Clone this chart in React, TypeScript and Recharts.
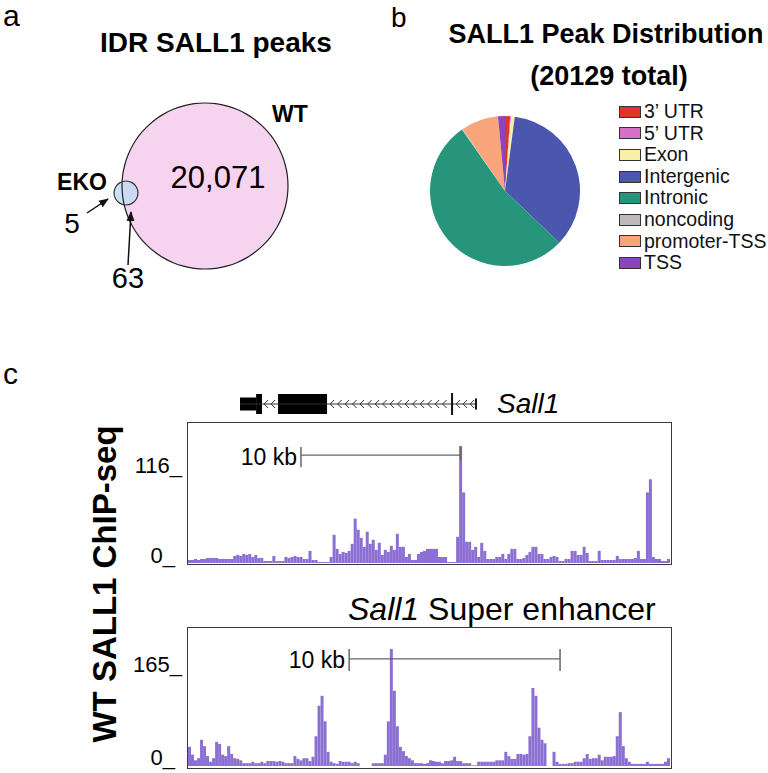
import React from "react";
import {
  PieChart,
  Pie,
  Cell,
  BarChart,
  Bar,
  XAxis,
  YAxis,
  ReferenceLine,
  ReferenceArea,
  ComposedChart,
  Scatter,
} from "recharts";

// ---- panel a: IDR peak overlap ----
const wtPeaks = [{ name: "WT", value: 20071 + 63 }];
const ekoPeaks = [{ name: "EKO", value: 5 + 63 }];

// ---- panel b: peak annotation ----
const peakTypes = ["3’ UTR", "5’ UTR", "Exon", "Intergenic", "Intronic", "noncoding", "promoter-TSS", "TSS"];
const peakCounts = [220, 40, 160, 7050, 10700, 40, 1620, 300];
const peakColors = ["#e0332b", "#d670c8", "#f7f0a6", "#4b57ae", "#27957b", "#bdb8bb", "#f8a57c", "#8a45b8"];

// ---- panel c: ChIP-seq signal, one value per bin ----
const sall1Signal = [
  3, 3, 4, 3, 4, 4, 5, 5, 5, 5,
  4, 4, 4, 4, 4, 7, 8, 7, 9, 8,
  9, 6, 8, 5, 5, 2, 2, 2, 7, 2,
  2, 2, 6, 5, 6, 7, 6, 6, 4, 4,
  12, 3, 3, 1, 1, 1, 1, 6, 28, 14,
  9, 11, 10, 12, 19, 44, 33, 25, 16, 31,
  19, 23, 13, 20, 8, 13, 11, 17, 13, 29,
  16, 16, 6, 9, 3, 3, 9, 11, 12, 14,
  14, 14, 14, 6, 6, 6, 1, 1, 1, 26,
  116, 70, 21, 21, 13, 16, 6, 20, 12, 4,
  4, 4, 6, 6, 9, 4, 9, 14, 14, 4,
  4, 5, 8, 11, 16, 16, 9, 9, 4, 4,
  6, 7, 6, 2, 2, 4, 4, 12, 12, 8,
  8, 16, 10, 2, 2, 2, 12, 3, 3, 3,
  3, 3, 7, 4, 4, 4, 4, 4, 5, 12,
  4, 4, 70, 83, 6, 4, 4, 2, 2, 4,
];
const enhancerSignal = [
  27, 16, 8, 11, 37, 28, 14, 6, 11, 34,
  31, 16, 14, 28, 17, 11, 10, 8, 4, 4,
  4, 6, 4, 4, 6, 4, 7, 7, 7, 6,
  7, 6, 4, 4, 4, 14, 10, 8, 11, 11,
  7, 13, 42, 85, 99, 63, 20, 6, 4, 3,
  7, 6, 6, 6, 4, 6, 4, 0, 0, 0,
  0, 4, 4, 4, 4, 16, 63, 165, 106, 56,
  27, 21, 14, 11, 8, 4, 4, 4, 3, 4,
  8, 7, 6, 6, 4, 7, 7, 8, 13, 7,
  7, 4, 4, 4, 1, 1, 6, 6, 6, 6,
  6, 6, 8, 8, 8, 20, 14, 10, 10, 17,
  17, 16, 17, 42, 110, 99, 54, 37, 32, 0,
  0, 20, 6, 3, 3, 3, 4, 4, 6, 6,
  6, 11, 17, 10, 11, 11, 16, 8, 13, 13,
  13, 14, 42, 76, 28, 11, 6, 3, 3, 3,
  3, 3, 6, 3, 3, 3, 3, 3, 6, 11,
];

// Sall1 gene model (kb from left edge of the top track)
const geneSpanKb = 30.3;
const exonBlocks = [
  { x1: 3.27, x2: 4.28, h: 3.3 },
  { x1: 4.28, x2: 4.65, h: 5 },
  { x1: 5.66, x2: 8.74, h: 5 },
];
const intronSpan = [3.27, 18.1];
const geneTicks = [
  { x: 16.6, h: 5.5 },
  { x: 18.1, h: 2.8 },
];
const chevronKb = [
  4.91, 5.35, 9.06, 9.53, 10.0, 10.47, 10.94, 11.42, 11.89, 12.36, 12.83, 13.3,
  13.77, 14.25, 14.72, 15.19, 15.66, 16.13, 16.98, 17.42, 17.86,
];

const FONT = "'Liberation Sans', Arial, Helvetica, sans-serif";
const BAR = "#8c6fd3";

const Chevron = (props: any) => {
  const { cx, cy } = props;
  return (
    <path
      d={`M${cx + 2},${cy - 4} L${cx - 2},${cy} L${cx + 2},${cy + 4}`}
      fill="none"
      stroke="#333"
      strokeWidth={1}
    />
  );
};

const Track = ({ values, max, top, marginTop, scaleBar }: any) => {
  const data = values.map((v: number, i: number) => ({ i, v }));
  const height = 117 + marginTop;
  return (
    <div style={{ position: "absolute", left: 188, top, width: 482, height }}>
      <BarChart
        width={482}
        height={height}
        data={data}
        barCategoryGap={0}
        margin={{ top: marginTop, right: 0, left: 0, bottom: 0 }}
      >
        <XAxis dataKey="i" type="category" hide />
        <YAxis domain={[0, max]} hide allowDataOverflow />
        <Bar dataKey="v" fill={BAR} isAnimationActive={false} />
        {/* 10 kb scale bar */}
        <ReferenceLine
          segment={[{ x: scaleBar.from, y: scaleBar.y }, { x: scaleBar.to, y: scaleBar.y }]}
          stroke="#666"
          strokeWidth={1.2}
          ifOverflow="visible"
        />
        <ReferenceLine
          segment={[{ x: scaleBar.from, y: scaleBar.tickHi }, { x: scaleBar.from, y: scaleBar.tickLo }]}
          stroke="#666"
          strokeWidth={1.5}
          ifOverflow="visible"
        />
        <ReferenceLine
          segment={[{ x: scaleBar.to, y: scaleBar.tickHi }, { x: scaleBar.to, y: scaleBar.rightLo }]}
          stroke="#666"
          strokeWidth={1.5}
          ifOverflow="visible"
        />
      </BarChart>
    </div>
  );
};

const Box = ({ top, height }: any) => (
  <div
    style={{
      position: "absolute",
      left: 187,
      top,
      width: 485,
      height,
      border: "1.5px solid #3a3a3a",
      boxSizing: "border-box",
      pointerEvents: "none",
    }}
  />
);

export default function App() {
  const chevronData = chevronKb.map((x) => ({ x, y: 0 }));
  return (
    <div
      style={{
        position: "absolute",
        left: 0,
        top: 0,
        width: 768,
        height: 773,
        background: "#fff",
        fontFamily: FONT,
        overflow: "hidden",
      }}
    >
      {/* a: Venn as two circles */}
      <div style={{ position: "absolute", left: 0, top: 0 }}>
        <PieChart width={384} height={320} margin={{ top: 0, right: 0, bottom: 0, left: 0 }}>
          <Pie data={wtPeaks} dataKey="value" cx={205} cy={186} outerRadius={83} fill="#f6d3ef" stroke="none" isAnimationActive={false} />
          <Pie data={ekoPeaks} dataKey="value" cx={126} cy={193} outerRadius={12} fill="#c4d9f2" fillOpacity={0.85} stroke="none" isAnimationActive={false} />
          <Pie data={wtPeaks} dataKey="value" cx={205} cy={186} innerRadius={82.4} outerRadius={83.6} fill="#222" stroke="none" isAnimationActive={false} />
          <Pie data={ekoPeaks} dataKey="value" cx={126} cy={193} innerRadius={11.4} outerRadius={12.6} fill="#333" stroke="none" isAnimationActive={false} />
        </PieChart>
      </div>

      {/* b: peak distribution */}
      <div style={{ position: "absolute", left: 405, top: 91 }}>
        <PieChart width={200} height={200} margin={{ top: 0, right: 0, bottom: 0, left: 0 }}>
          <Pie
            data={peakTypes.map((name, k) => ({ name, value: peakCounts[k] }))}
            dataKey="value"
            cx={100}
            cy={100}
            outerRadius={75}
            startAngle={90}
            endAngle={-270}
            stroke="none"
            isAnimationActive={false}
          >
            {peakTypes.map((name, k) => (
              <Cell key={name} fill={peakColors[k]} />
            ))}
          </Pie>
        </PieChart>
      </div>
      <div style={{ position: "absolute", left: 619, top: 101 }}>
        {peakTypes.map((name, k) => (
          <div key={name} style={{ display: "flex", alignItems: "center", height: 21.6 }}>
            <div
              style={{
                width: 22,
                height: 12,
                background: peakColors[k],
                border: "1px solid #333",
                boxSizing: "border-box",
                marginRight: 3,
              }}
            />
            <span style={{ fontSize: 19.5, color: "#111", lineHeight: "21.6px" }}>{name}</span>
          </div>
        ))}
      </div>

      {/* c: gene model */}
      <div style={{ position: "absolute", left: 188, top: 384 }}>
        <ComposedChart width={482} height={40} data={chevronData} margin={{ top: 0, right: 0, bottom: 0, left: 0 }}>
          <XAxis dataKey="x" type="number" domain={[0, geneSpanKb]} hide />
          <YAxis dataKey="y" type="number" domain={[-10, 10]} hide />
          <ReferenceLine
            segment={[{ x: intronSpan[0], y: 0 }, { x: intronSpan[1], y: 0 }]}
            stroke="#333"
            strokeWidth={1}
            ifOverflow="visible"
          />
          {exonBlocks.map((b, k) => (
            <ReferenceArea key={k} x1={b.x1} x2={b.x2} y1={-b.h} y2={b.h} fill="#000" fillOpacity={1} stroke="none" ifOverflow="visible" />
          ))}
          {geneTicks.map((t, k) => (
            <ReferenceLine
              key={k}
              segment={[{ x: t.x, y: -t.h }, { x: t.x, y: t.h }]}
              stroke="#111"
              strokeWidth={2}
              ifOverflow="visible"
            />
          ))}
          <Scatter dataKey="y" shape={<Chevron />} isAnimationActive={false} />
        </ComposedChart>
      </div>

      {/* c: tracks */}
      <Track
        values={sall1Signal}
        max={116}
        top={423}
        marginTop={23}
        scaleBar={{ from: 37, to: 90, y: 107, tickHi: 115, tickLo: 95, rightLo: 102 }}
      />
      <Box top={422} height={143} />
      <Track
        values={enhancerSignal}
        max={165}
        top={628}
        marginTop={21}
        scaleBar={{ from: 53, to: 123, y: 151, tickHi: 165, tickLo: 134, rightLo: 134 }}
      />
      <Box top={627} height={142} />

      {/* text and arrows */}
      <svg width={768} height={773} style={{ position: "absolute", left: 0, top: 0, pointerEvents: "none" }} fontFamily={FONT}>
        <defs>
          <marker id="ah" markerUnits="userSpaceOnUse" markerWidth={10} markerHeight={10} refX={9} refY={5} orient="auto">
            <path d="M0,1 L10,5 L0,9 z" fill="#111" />
          </marker>
        </defs>
        <text x={3} y={26} fontSize={30}>a</text>
        <text x={216} y={52} fontSize={28} fontWeight="bold" textAnchor="middle">IDR SALL1 peaks</text>
        <text x={290} y={122} fontSize={23} fontWeight="bold" textAnchor="middle">WT</text>
        <text x={218} y={188} fontSize={31} textAnchor="middle">20,071</text>
        <text x={82} y={190} fontSize={23} fontWeight="bold" textAnchor="middle">EKO</text>
        <text x={72} y={233} fontSize={28} textAnchor="middle">5</text>
        <text x={128} y={288} fontSize={29} textAnchor="middle">63</text>
        <line x1={87} y1={213} x2={108} y2={199} stroke="#111" strokeWidth={1.5} markerEnd="url(#ah)" />
        <line x1={128} y1={265} x2={131} y2={212} stroke="#111" strokeWidth={1.5} markerEnd="url(#ah)" />

        <text x={391} y={27} fontSize={28}>b</text>
        <text x={606} y={43} fontSize={27} fontWeight="bold" textAnchor="middle">SALL1 Peak Distribution</text>
        <text x={609} y={85} fontSize={27} fontWeight="bold" textAnchor="middle">(20129 total)</text>

        <text x={3} y={384} fontSize={30}>c</text>
        <text x={497} y={413} fontSize={28} fontStyle="italic">Sall1</text>
        <text x={297} y={465} fontSize={23} textAnchor="end">10 kb</text>
        <text x={182} y={473} fontSize={22} textAnchor="end">116_</text>
        <text x={175} y={563} fontSize={22} textAnchor="end">0_</text>

        <text x={348} y={620} fontSize={32}>
          <tspan fontStyle="italic">Sall1</tspan> Super enhancer
        </text>
        <text x={345} y={668} fontSize={23} textAnchor="end">10 kb</text>
        <text x={182} y={672} fontSize={22} textAnchor="end">165_</text>
        <text x={175} y={765} fontSize={22} textAnchor="end">0_</text>

        <text
          x={104}
          y={584}
          fontSize={33}
          fontWeight="bold"
          textAnchor="middle"
          dominantBaseline="central"
          transform="rotate(-90 104 584)"
        >
          WT SALL1 ChIP-seq
        </text>
      </svg>
    </div>
  );
}
